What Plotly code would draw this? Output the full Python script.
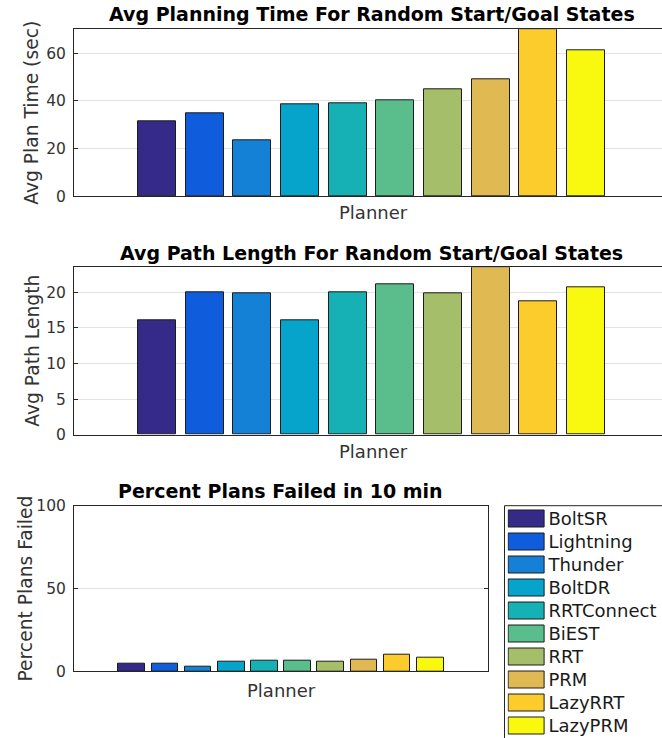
import plotly.graph_objects as go

# Planner benchmark results
planners = ["BoltSR", "Lightning", "Thunder", "BoltDR", "RRTConnect",
            "BiEST", "RRT", "PRM", "LazyRRT", "LazyPRM"]
colors = ["#352a87", "#0f5cdd", "#1481d6", "#06a4ca", "#15b1b4",
          "#59bd8c", "#a5be6a", "#e1b952", "#fbcc2c", "#f8f90e"]
avg_plan_time = [31.6, 34.6, 23.3, 38.6, 39.0, 40.2, 45.0, 49.1, 70.0, 61.3]
avg_path_length = [16.15, 20.0, 19.83, 16.15, 20.0, 21.13, 19.83, 23.53, 18.7, 20.67]
percent_failed = [4.8, 4.8, 2.8, 5.6, 6.4, 6.4, 5.6, 7.2, 9.9, 8.5]
positions = list(range(1, len(planners) + 1))

time_ticks = [0, 20, 40, 60]
length_ticks = [0, 5, 10, 15, 20]
failed_ticks = [0, 50, 100]

W, H = 662, 738
FONT = "DejaVu Sans"
DARK = "#262626"
GRID = "#e3e3e3"


def px(x):
    return x / W


def py(y):
    return 1 - y / H


fig = go.Figure()

bar_style = dict(marker=dict(color=colors, line=dict(color="#1c1c1c", width=1)),
                 width=0.8, showlegend=False, hoverinfo="x+y")

fig.add_trace(go.Bar(x=positions, y=avg_plan_time, xaxis="x", yaxis="y", **bar_style))
fig.add_trace(go.Bar(x=positions, y=avg_path_length, xaxis="x2", yaxis="y2", **bar_style))
fig.add_trace(go.Bar(x=positions, y=percent_failed, xaxis="x3", yaxis="y3", **bar_style))

# legend swatches drawn as a small horizontal bar chart
fig.add_trace(go.Bar(y=planners, x=[1] * len(planners), orientation="h",
                     xaxis="x4", yaxis="y4", width=0.73, showlegend=False,
                     marker=dict(color=colors, line=dict(color="#1c1c1c", width=1)),
                     hoverinfo="y"))

axis_font = dict(family=FONT, size=15.5, color="#333333")

common_x = dict(showgrid=False, zeroline=False, showticklabels=False, ticks="",
                showline=True, linecolor=DARK, linewidth=1, automargin=False)
common_y = dict(showgrid=True, gridcolor=GRID, gridwidth=1, zeroline=False,
                showline=True, linecolor=DARK, linewidth=1, ticks="inside",
                ticklen=4, tickcolor=DARK, tickfont=axis_font, ticklabelstandoff=4,
                automargin=False)

top_unit = 47.67  # pixels per bar slot in the two wide panels
wide_range = [-0.74, -0.74 + (W - 74) / top_unit]

fig.update_layout(
    width=W, height=H,
    margin=dict(l=0, r=0, t=0, b=0, pad=0, autoexpand=False),
    paper_bgcolor="white", plot_bgcolor="white",
    bargap=0,
    xaxis=dict(domain=[px(74), 1], range=wide_range, anchor="y", mirror=True, **common_x),
    yaxis=dict(domain=[py(196.3), py(29.3)], range=[0, 70], tickvals=time_ticks,
               anchor="x", mirror=False, **common_y),
    xaxis2=dict(domain=[px(74), 1], range=wide_range, anchor="y2", mirror=True, **common_x),
    yaxis2=dict(domain=[py(434.7), py(267.3)], range=[0, 23.53], tickvals=length_ticks,
                anchor="x2", mirror=False, **common_y),
    xaxis3=dict(domain=[px(74), px(488)], range=[-0.74, 11.74], anchor="y3", mirror=True,
                **common_x),
    yaxis3=dict(domain=[py(671.3), py(505.7)], range=[0, 100], tickvals=failed_ticks,
                anchor="x3", mirror="ticks", **common_y),
    xaxis4=dict(domain=[px(507.6), px(545.4)], range=[-0.03, 1.03], anchor="y4",
                showgrid=False, zeroline=False, showticklabels=False, showline=False,
                ticks="", fixedrange=True, automargin=False),
    yaxis4=dict(domain=[py(737.5), py(507.5)], type="category", range=[9.5, -0.5],
                anchor="x4", side="right", showgrid=False, zeroline=False,
                showline=False, ticks="", ticklabelstandoff=2, automargin=False,
                tickfont=dict(family=FONT, size=18, color="#1a1a1a"), fixedrange=True),
)

# legend frame (runs off the right and bottom edges)
fig.add_shape(type="rect", xref="paper", yref="paper",
              x0=px(504.5), x1=1.1, y0=-0.1, y1=py(505.7),
              line=dict(color=DARK, width=1), fillcolor="rgba(0,0,0,0)", layer="above")

title_font = dict(family=FONT, size=19, color="#000000")
label_font = dict(family=FONT, size=18, color="#333333")
ylabel_font = dict(family=FONT, size=18.7, color="#333333")

annotations = [
    # panel titles
    dict(text="<b>Avg Planning Time For Random Start/Goal States</b>", x=px(371.5), y=py(14.5),
         font=title_font),
    dict(text="<b>Avg Path Length For Random Start/Goal States</b>", x=px(371.8), y=py(252.5),
         font=title_font),
    dict(text="<b>Percent Plans Failed in 10 min</b>", x=px(280.5), y=py(490.5),
         font=title_font),
    # x-axis labels
    dict(text="Planner", x=px(373), y=py(213), font=label_font),
    dict(text="Planner", x=px(373), y=py(451.5), font=label_font),
    dict(text="Planner", x=px(281), y=py(690), font=label_font),
    # y-axis labels
    dict(text="Avg Plan Time (sec)", x=px(32), y=py(112.8), font=ylabel_font, textangle=-90),
    dict(text="Avg Path Length", x=px(31.7), y=py(351), font=ylabel_font, textangle=-90),
    dict(text="Percent Plans Failed", x=px(25), y=py(588.5), font=ylabel_font, textangle=-90),
]
for a in annotations:
    fig.add_annotation(xref="paper", yref="paper", showarrow=False,
                       xanchor="center", yanchor="middle", **a)

fig.write_html("out.html")
